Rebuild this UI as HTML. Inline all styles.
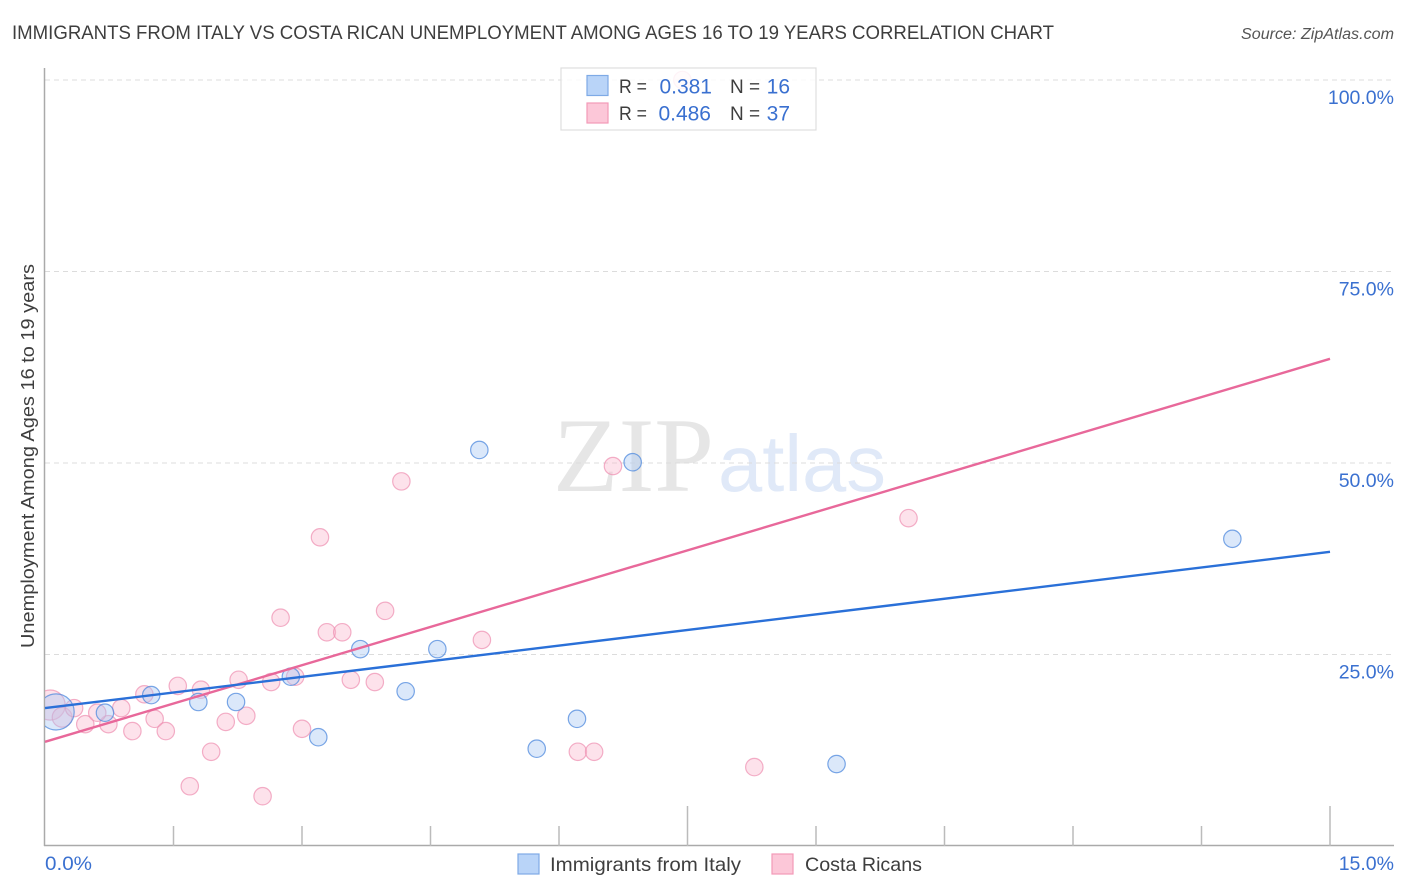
<!DOCTYPE html>
<html lang="en">
<head>
<meta charset="utf-8">
<title>Immigrants from Italy vs Costa Rican Unemployment Correlation Chart</title>
<style>
html,body{margin:0;padding:0;background:#fff;width:1406px;height:892px;overflow:hidden}
svg{display:block;font-family:"Liberation Sans",sans-serif}
</style>
</head>
<body>
<svg id="chart" xmlns="http://www.w3.org/2000/svg" width="1406" height="892" viewBox="0 0 1406 892">
  <defs>
    <clipPath id="plot-clip"><rect x="45" y="60" width="1350" height="786"/></clipPath>
  </defs>
  <text x="12" y="39" font-size="19" fill="#3e3e3e" textLength="1042" lengthAdjust="spacingAndGlyphs">IMMIGRANTS FROM ITALY VS COSTA RICAN UNEMPLOYMENT AMONG AGES 16 TO 19 YEARS CORRELATION CHART</text>
  <text x="1241" y="39" font-size="15.500" font-style="italic" fill="#555" textLength="153" lengthAdjust="spacingAndGlyphs">Source: ZipAtlas.com</text>
  <g>
    <text x="553" y="491" font-family="'Liberation Serif',serif" font-size="106" fill="#e6e6e6" textLength="161" lengthAdjust="spacingAndGlyphs">ZIP</text>
    <text x="718" y="491" font-size="80" fill="#e0e9f8" textLength="168" lengthAdjust="spacingAndGlyphs">atlas</text>
  </g>
  <g id="grid"></g>
  <g id="axes"></g>
  <g id="pink-points" clip-path="url(#plot-clip)"></g>
  <g id="blue-points" clip-path="url(#plot-clip)"></g>
  <g id="trends"></g>
  <g id="labels"></g>
  <text transform="translate(34,648) rotate(-90)" font-size="18.500" fill="#3e3e3e" textLength="384" lengthAdjust="spacingAndGlyphs">Unemployment Among Ages 16 to 19 years</text>

  <g>
    <rect x="561" y="68" width="255" height="62" fill="#fff" fill-opacity="0.85" stroke="#dedede" stroke-width="1.2"/>
    <rect x="587" y="75.500" width="21" height="20" fill="#b9d4f8" stroke="#7eaae6" stroke-width="1.2"/>
    <rect x="587" y="103" width="21" height="20" fill="#fcc7d8" stroke="#f29ab8" stroke-width="1.2"/>
    <text x="619" y="93" font-size="19" fill="#3e3e3e" textLength="28" lengthAdjust="spacingAndGlyphs">R =</text>
    <text x="712" y="93.500" font-size="21" fill="#3a70d0" text-anchor="end">0.381</text>
    <text x="730" y="93" font-size="19" fill="#3e3e3e">N =</text>
    <text x="790" y="93.500" font-size="21" fill="#3a70d0" text-anchor="end">16</text>
    <text x="619" y="120" font-size="19" fill="#3e3e3e" textLength="28" lengthAdjust="spacingAndGlyphs">R =</text>
    <text x="711" y="120.500" font-size="21" fill="#3a70d0" text-anchor="end">0.486</text>
    <text x="730" y="120" font-size="19" fill="#3e3e3e">N =</text>
    <text x="790" y="120.500" font-size="21" fill="#3a70d0" text-anchor="end">37</text>
  </g>

  <g>
    <rect x="518" y="854" width="21" height="20" fill="#b9d4f8" stroke="#7eaae6" stroke-width="1.2"/>
    <text x="550" y="871" font-size="19.500" fill="#3e3e3e" textLength="191" lengthAdjust="spacingAndGlyphs">Immigrants from Italy</text>
    <rect x="772" y="854" width="21" height="20" fill="#fcc7d8" stroke="#f29ab8" stroke-width="1.2"/>
    <text x="805" y="871" font-size="19.500" fill="#3e3e3e" textLength="117" lengthAdjust="spacingAndGlyphs">Costa Ricans</text>
  </g>
</svg>
<script>
const xTickValues = [0, 1.5, 3, 4.5, 6, 7.5, 9, 10.5, 12, 13.5, 15];
const xMajorTicks = [7.5, 15];
const xTickLabels = ["0.0%", "15.0%"];
const yTickValues = [100, 75, 50, 25];
const yTickLabels = ["100.0%", "75.0%", "50.0%", "25.0%"];

const italyX = [0.13, 0.70, 1.24, 1.79, 2.23, 2.87, 3.19, 3.68, 4.21, 4.58, 5.07, 5.74, 6.21, 6.86, 9.24, 13.86];
const italyY = [17.5, 17.4, 19.7, 18.8, 18.8, 22.1, 14.2, 25.7, 20.2, 25.7, 51.7, 12.7, 16.6, 50.1, 10.7, 40.1];
const italyWeight = [4.3, 1, 1, 1, 1, 1, 1, 1, 1, 1, 1, 1, 1, 1, 1, 1];

const costaX = [0.06, 0.20, 0.34, 0.47, 0.74, 0.61, 0.89, 1.02, 1.16, 1.28, 1.41, 1.55, 1.69, 1.82, 1.94, 2.11, 2.26, 2.35, 2.54, 2.64, 2.75, 2.92, 3.00, 3.21, 3.29, 3.47, 3.57, 3.85, 3.97, 4.16, 5.10, 6.22, 6.41, 6.63, 7.44, 8.28, 10.08];
const costaY = [18.4, 16.8, 18.0, 15.9, 15.9, 17.4, 18.0, 15.0, 19.8, 16.6, 15.0, 20.9, 7.8, 20.4, 12.3, 16.2, 21.7, 17.0, 6.5, 21.4, 29.8, 22.1, 15.3, 40.3, 27.9, 27.9, 21.7, 21.4, 30.7, 47.6, 26.9, 12.3, 12.3, 49.6, 100, 10.3, 42.8];
const costaWeight = [3, 1.3, 1, 1, 1, 1, 1, 1, 1, 1, 1, 1, 1, 1, 1, 1, 1, 1, 1, 1, 1, 1, 1, 1, 1, 1, 1, 1, 1, 1, 1, 1, 1, 1, 1, 1, 1];

const trendX = [0, 15];
const italyTrend = [18.0, 38.4];
const costaTrend = [13.6, 63.6];

const NS = "http://www.w3.org/2000/svg";
const sx = v => 45 + v * (1330 - 45) / 15;
const sy = v => 846 - v * 7.66;

function make(parent, tag, attrs, text) {
  const el = document.createElementNS(NS, tag);
  for (const k in attrs) el.setAttribute(k, attrs[k]);
  if (text !== undefined) el.textContent = text;
  document.getElementById(parent).appendChild(el);
  return el;
}

yTickValues.forEach((v, i) => {
  const line = make("grid", "line", {x1: 45, x2: 1394, y1: sy(v), y2: sy(v), stroke: "#dcdcdc", "stroke-width": 1, "stroke-dasharray": "5 4"});
  
  
  const label = make("labels", "text", {x: 1394, y: sy(v) + 24, "font-size": 19.5, fill: "#3a70d0", "text-anchor": "end"}, yTickLabels[i]);
  
  
});

const yAxis = make("axes", "line", {x1: 44.5, x2: 44.5, y1: 68, y2: 846, stroke: "#aaa", "stroke-width": 1.5});


const xAxis = make("axes", "line", {x1: 44, x2: 1394, y1: 845.5, y2: 845.5, stroke: "#aaa", "stroke-width": 1.5});



xTickValues.forEach(v => {
  if (v === 0) return;
  const top = xMajorTicks.includes(v) ? 806 : 826;
  const tick = make("axes", "line", {x1: sx(v), x2: sx(v), y1: top, y2: 846, stroke: "#bbb", "stroke-width": 1.5});
  
  
});

const x0Label = make("labels", "text", {x: sx(0), y: 870, "font-size": 19.5, fill: "#3a70d0", textLength: 47, lengthAdjust: "spacingAndGlyphs"}, xTickLabels[0]);


const x1Label = make("labels", "text", {x: 1394, y: 870, "font-size": 19.5, fill: "#3a70d0", "text-anchor": "end"}, xTickLabels[1]);



costaX.forEach((v, i) => {
  const dot = make("pink-points", "circle", {cx: sx(v), cy: sy(costaY[i]), r: 8.7 * Math.sqrt(costaWeight[i]), fill: "#f9b6cc", "fill-opacity": 0.4, stroke: "#ee8fb0", "stroke-opacity": 0.7, "stroke-width": 1.2});
  
  
});

italyX.forEach((v, i) => {
  const dot = make("blue-points", "circle", {cx: sx(v), cy: sy(italyY[i]), r: 8.7 * Math.sqrt(italyWeight[i]), fill: "#a9c9f3", "fill-opacity": 0.42, stroke: "#4f8ade", "stroke-opacity": 0.75, "stroke-width": 1.2});
  
  
});

const costaLine = make("trends", "line", {x1: sx(trendX[0]), x2: sx(trendX[1]), y1: sy(costaTrend[0]), y2: sy(costaTrend[1]), stroke: "#e8689a", "stroke-width": 2.4});


const italyLine = make("trends", "line", {x1: sx(trendX[0]), x2: sx(trendX[1]), y1: sy(italyTrend[0]), y2: sy(italyTrend[1]), stroke: "#2a70d8", "stroke-width": 2.4});


</script>
</body>
</html>
